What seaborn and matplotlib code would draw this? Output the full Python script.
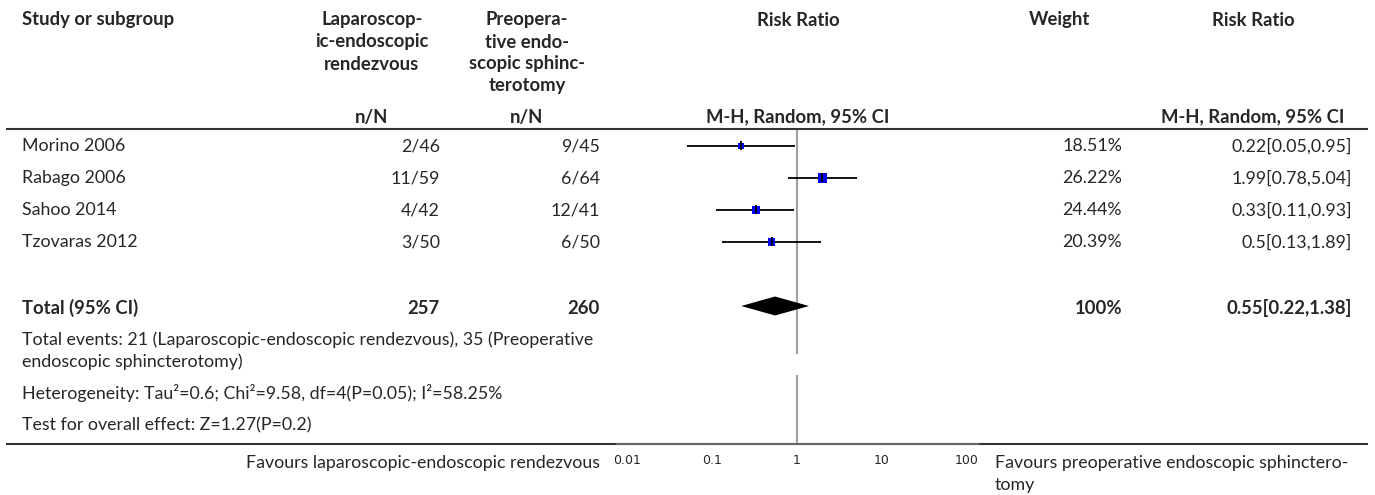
import numpy as np
import matplotlib
matplotlib.use('Agg')
import matplotlib.pyplot as plt
import seaborn as sns

sns.set_style('white')
plt.rcParams['font.family'] = ['Lato', 'DejaVu Sans']

# data
studies = ['Morino 2006', 'Rabago 2006', 'Sahoo 2014', 'Tzovaras 2012']
lap_events = [2, 11, 4, 3]
lap_total = [46, 59, 42, 50]
pre_events = [9, 6, 12, 6]
pre_total = [45, 64, 41, 50]
rr = [0.22, 1.99, 0.33, 0.5]
ci_lo = [0.05, 0.78, 0.11, 0.13]
ci_hi = [0.95, 5.04, 0.93, 1.89]
weights = [18.51, 26.22, 24.44, 20.39]

pooled_rr, pooled_lo, pooled_hi = 0.55, 0.22, 1.38
total_lap, total_pre = 257, 260
events_lap, events_pre = 21, 35

tick_vals = [0.01, 0.1, 1, 10, 100]
tick_labels = ['0.01', '0.1', '1', '10', '100']

W, H = 1375, 495
FS = 12.8
FS_B = 13.3

fig = plt.figure(figsize=(W / 100, H / 100), dpi=100)

# background axes in pixel coordinates for the table text
tab = fig.add_axes([0, 0, 1, 1])
tab.set_xlim(0, W)
tab.set_ylim(H, 0)
tab.axis('off')


def px_rect(left, right, top, bottom):
    return [left / W, 1 - bottom / H, (right - left) / W, (bottom - top) / H]


# column layout
x_study = 22
x_lap_c, x_lap_r = 372, 440
x_pre_c, x_pre_r = 527, 600
x_rr_c = 798
x_w_c, x_w_r = 1060, 1122
x_rr2_c, x_rr2_r = 1253, 1352

first_row, pitch = 146, 32
row_y = first_row + pitch * np.arange(len(studies))
total_y = 308

bold = dict(fontsize=FS_B, fontweight='bold', va='center')
norm = dict(fontsize=FS, va='center')

# headers
tab.text(x_study, 20, 'Study or subgroup', ha='left', **bold)
for i, line in enumerate(['Laparoscop-', 'ic-endoscopic', 'rendezvous']):
    tab.text(x_lap_c, 20 + 22 * i, line, ha='center', **bold)
for i, line in enumerate(['Preopera-', 'tive endo-', 'scopic sphinc-', 'terotomy']):
    tab.text(x_pre_c, 20 + 22 * i, line, ha='center', **bold)
tab.text(x_rr_c, 20, 'Risk Ratio', ha='center', **bold)
tab.text(x_w_c, 20, 'Weight', ha='center', **bold)
tab.text(x_rr2_c, 20, 'Risk Ratio', ha='center', **bold)
tab.text(x_lap_c, 117, 'n/N', ha='center', **bold)
tab.text(x_pre_c, 117, 'n/N', ha='center', **bold)
tab.text(x_rr_c, 117, 'M-H, Random, 95% CI', ha='center', **bold)
tab.text(x_rr2_c, 117, 'M-H, Random, 95% CI', ha='center', **bold)

tab.hlines([129, 444], 6, 1368, color='#333333', lw=1.5)

# study rows
for y, s, le, lt, pe, pt, w, r, lo, hi in zip(row_y, studies, lap_events, lap_total,
                                               pre_events, pre_total, weights, rr, ci_lo, ci_hi):
    tab.text(x_study, y, s, ha='left', **norm)
    tab.text(x_lap_r, y, f'{le}/{lt}', ha='right', **norm)
    tab.text(x_pre_r, y, f'{pe}/{pt}', ha='right', **norm)
    tab.text(x_w_r, y, f'{w:.2f}%', ha='right', **norm)
    tab.text(x_rr2_r, y, f'{r:g}[{lo:g},{hi:g}]', ha='right', **norm)

# total row
tab.text(x_study, total_y, 'Total (95% CI)', ha='left', **bold)
tab.text(x_lap_r, total_y, f'{total_lap}', ha='right', **bold)
tab.text(x_pre_r, total_y, f'{total_pre}', ha='right', **bold)
tab.text(x_w_r, total_y, '100%', ha='right', **bold)
tab.text(x_rr2_r, total_y, f'{pooled_rr:g}[{pooled_lo:g},{pooled_hi:g}]', ha='right', **bold)

tab.text(x_study, 340, f'Total events: {events_lap} (Laparoscopic-endoscopic rendezvous), '
         f'{events_pre} (Preoperative', ha='left', **norm)
tab.text(x_study, 362, 'endoscopic sphincterotomy)', ha='left', **norm)
tab.text(x_study, 393, 'Heterogeneity: Tau²=0.6; Chi²=9.58, df=4(P=0.05); I²=58.25%',
         ha='left', **norm)
tab.text(x_study, 425, 'Test for overall effect: Z=1.27(P=0.2)', ha='left', **norm)

tab.text(600, 463, 'Favours laparoscopic-endoscopic rendezvous', ha='right', **norm)
tab.text(995, 463, 'Favours preoperative endoscopic sphinctero-', ha='left', **norm)
tab.text(995, 485, 'tomy', ha='left', **norm)

# forest plot axes
forest = fig.add_axes(px_rect(617, 978, 130, 444))
forest.patch.set_alpha(0)
forest.set_xscale('log')
forest.set_xlim(10 ** -2.12, 10 ** 2.13)
forest.set_ylim(444, 130)

forest.vlines([1, 1], [130, 375], [354, 444], color='#a0a0a0', lw=1.5, zorder=1)
forest.hlines(row_y, ci_lo, ci_hi, color='black', lw=1.3, zorder=2)

side_px = np.array(weights) * 0.35
sns.scatterplot(x=rr, y=row_y, marker='s', s=(side_px * 0.72) ** 2, color='#0000ff',
                edgecolor='none', linewidth=0, ax=forest, zorder=3, legend=False)
forest.vlines(rr, row_y - 4.5, row_y + 4.5, color='black', lw=1.3, zorder=4)

forest.fill([pooled_lo, pooled_rr, pooled_hi, pooled_rr],
            [total_y - 2, total_y - 11.5, total_y - 2, total_y + 7.5], color='black', lw=0)

forest.set_xticks(tick_vals)
forest.set_xticklabels(tick_labels, fontfamily='DejaVu Sans', fontsize=9)
forest.minorticks_off()
forest.tick_params(axis='x', direction='in', length=4, width=1, color='#444444', pad=7)
forest.set_yticks([])
for side in ['top', 'left', 'right']:
    forest.spines[side].set_visible(False)
forest.spines['bottom'].set_color('#666666')
forest.spines['bottom'].set_linewidth(1.5)

fig.savefig('out.png', dpi=100)
